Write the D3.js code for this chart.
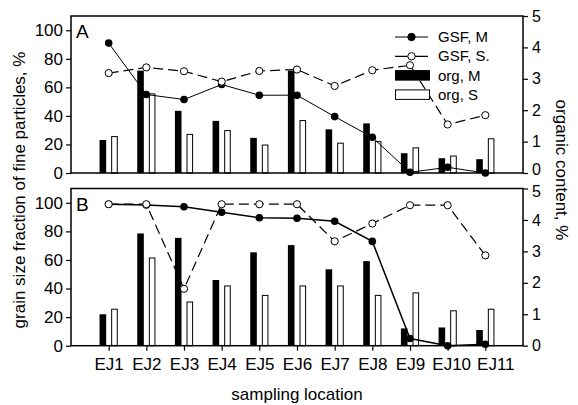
<!DOCTYPE html>
<html>
<head>
<meta charset="utf-8">
<script src="https://cdn.jsdelivr.net/npm/d3@7"></script>
<style>
  body { margin: 0; background: #fff; }
  svg { font-family: Arial, "Liberation Sans", sans-serif; }
</style>
</head>
<body>
<svg id="chart" width="578" height="405"></svg>
<script>
var sites = ['EJ1','EJ2','EJ3','EJ4','EJ5','EJ6','EJ7','EJ8','EJ9','EJ10','EJ11'];
var gsfTicks = [0, 20, 40, 60, 80, 100];
var orgTicks = [0, 1, 2, 3, 4, 5];

// panel A
var gsfM_A = [91, 55, 51.5, 62, 54.5, 54.5, 39.5, 25, 0.5, 4, 0];
var gsfS_A = [70, 74, 71.3, 64, 71.5, 72.5, 61, 72, 75.5, 34, 40.5];
var orgM_A = [1.05, 3.26, 1.98, 1.66, 1.12, 3.26, 1.39, 1.58, 0.63, 0.47, 0.44];
var orgS_A = [1.16, 2.52, 1.23, 1.35, 0.89, 1.67, 0.95, 1.0, 0.8, 0.54, 1.09];

// panel B
var gsfM_B = [99, 98.5, 97.2, 93.4, 89.5, 89.2, 87.1, 73, 5, 0, 1];
var gsfS_B = [99, 99, 39.8, 99, 99, 99, 73, 85.5, 98.3, 98.3, 63.2];
var orgM_B = [1.0, 3.57, 3.43, 2.09, 2.97, 3.2, 2.43, 2.69, 0.55, 0.58, 0.5];
var orgS_B = [1.16, 2.79, 1.39, 1.9, 1.6, 1.9, 1.9, 1.6, 1.68, 1.11, 1.16];

var svg = d3.select('#chart');
var left = 71, right = 523;
var fontFam = 'Arial, "Liberation Sans", sans-serif';

var x = d3.scalePoint()
  .domain(sites)
  .range([left, right])
  .padding(1);

var barW = 6.6, barGap = 2.5;

function panel(top, bottom, letter, gsfM, gsfS, orgM, orgS, showX, solidW, legend) {
  var g = svg.append('g');
  var yL = d3.scaleLinear().domain([0, 110]).range([bottom, top]);
  var yR = d3.scaleLinear().domain([0, 5]).range([bottom, top]);

  // bars (organic content, right axis)
  g.selectAll('.barM')
    .data(orgM)
    .enter()
    .append('rect')
    .attr('x', (d, i) => x(sites[i]) - barGap - barW)
    .attr('y', d => yR(d))
    .attr('width', barW)
    .attr('height', d => bottom - yR(d))
    .attr('fill', '#000');

  g.selectAll('.barS')
    .data(orgS)
    .enter()
    .append('rect')
    .attr('x', (d, i) => x(sites[i]) + barGap + 0.5)
    .attr('y', d => yR(d))
    .attr('width', barW - 1)
    .attr('height', d => bottom - yR(d))
    .attr('fill', '#fff')
    .attr('stroke', '#000')
    .attr('stroke-width', 1);

  var line = d3.line()
    .x((d, i) => x(sites[i]))
    .y(d => yL(d));

  g.append('path')
    .attr('d', line(gsfS))
    .attr('fill', 'none')
    .attr('stroke', '#000')
    .attr('stroke-width', 1.2)
    .attr('stroke-dasharray', '10,5');

  g.append('path')
    .attr('d', line(gsfM))
    .attr('fill', 'none')
    .attr('stroke', '#000')
    .attr('stroke-width', solidW);

  g.selectAll('.ptM')
    .data(gsfM)
    .enter()
    .append('circle')
    .attr('cx', (d, i) => x(sites[i]))
    .attr('cy', d => yL(d))
    .attr('r', 3.8)
    .attr('fill', '#000');

  g.selectAll('.ptS')
    .data(gsfS)
    .enter()
    .append('circle')
    .attr('cx', (d, i) => x(sites[i]))
    .attr('cy', d => yL(d))
    .attr('r', 3.6)
    .attr('fill', '#fff')
    .attr('stroke', '#000')
    .attr('stroke-width', 1);

  // frame
  g.append('rect')
    .attr('x', left)
    .attr('y', top)
    .attr('width', right - left)
    .attr('height', bottom - top)
    .attr('fill', 'none')
    .attr('stroke', '#000')
    .attr('stroke-width', 1.5);

  var axL = g.append('g')
    .attr('transform', 'translate(' + left + ',0)')
    .call(d3.axisLeft(yL).tickValues(gsfTicks).tickSize(5).tickSizeOuter(0).tickPadding(3));
  var axR = g.append('g')
    .attr('transform', 'translate(' + right + ',0)')
    .call(d3.axisRight(yR).tickValues(orgTicks).tickFormat(d3.format('d')).tickSize(5).tickSizeOuter(0).tickPadding(4));

  [axL, axR].forEach(a => {
    a.select('.domain').remove();
    a.selectAll('line').attr('stroke-width', 1.2);
    a.selectAll('text').attr('font-size', 17).attr('fill', '#000').attr('font-family', fontFam);
  });
  // right axis labels are a bit smaller so the 0 of A and the 5 of B do not collide
  axR.selectAll('text').attr('font-size', 16);
  if (showX) axR.selectAll('text').filter(d => d == 5).attr('dy', '0.5em');
  else axR.selectAll('text').filter(d => d == 0).attr('dy', '0.1em');

  if (showX) {
    var axB = g.append('g')
      .attr('transform', 'translate(0,' + bottom + ')')
      .call(d3.axisBottom(x).tickSize(5).tickSizeOuter(0).tickPadding(7));
    axB.select('.domain').remove();
    axB.selectAll('line').attr('stroke-width', 1.2);
    axB.selectAll('text').attr('font-size', 17).attr('fill', '#000').attr('font-family', fontFam)
      .attr('dx', d => d == 'EJ10' ? 3.5 : d == 'EJ11' ? 10 : 0);
  }

  g.append('text')
    .attr('x', 76)
    .attr('y', top + 22)
    .attr('font-size', 19)
    .text(letter);

  if (legend) {
    var items = [
      {name: 'GSF, M', type: 'dotM'},
      {name: 'GSF, S.', type: 'dotS'},
      {name: 'org, M', type: 'barM'},
      {name: 'org, S', type: 'barS'}
    ];
    var lg = g.append('g');
    items.forEach((it, i) => {
      var cy = 37 + i * 19.3;
      if (it.type == 'dotM' || it.type == 'dotS') {
        lg.append('line')
          .attr('x1', 395).attr('x2', 428)
          .attr('y1', cy).attr('y2', cy)
          .attr('stroke', '#000').attr('stroke-width', 1.2);
        lg.append('circle')
          .attr('cx', 411.5).attr('cy', cy).attr('r', 3.7)
          .attr('fill', it.type == 'dotM' ? '#000' : '#fff')
          .attr('stroke', '#000');
      } else {
        lg.append('rect')
          .attr('x', 395.5).attr('y', cy - 5)
          .attr('width', 34).attr('height', 9.5)
          .attr('fill', it.type == 'barM' ? '#000' : '#fff')
          .attr('stroke', '#000');
      }
      lg.append('text')
        .attr('x', 438)
        .attr('y', cy + 5)
        .attr('font-size', 15)
        .text(it.name);
    });
  }
}

panel(16, 173, 'A', gsfM_A, gsfS_A, orgM_A, orgS_A, false, 1, true);
panel(188.5, 345.7, 'B', gsfM_B, gsfS_B, orgM_B, orgS_B, true, 1.5, false);

svg.append('text')
  .attr('transform', 'translate(25,190) rotate(-90)')
  .attr('text-anchor', 'middle')
  .attr('font-size', 17)
  .text('grain size fraction of fine particles, %');

svg.append('text')
  .attr('transform', 'translate(556,170) rotate(90)')
  .attr('text-anchor', 'middle')
  .attr('font-size', 17)
  .text('organic content, %');

svg.append('text')
  .attr('x', 297)
  .attr('y', 400)
  .attr('text-anchor', 'middle')
  .attr('font-size', 17)
  .text('sampling location');
</script>
</body>
</html>
